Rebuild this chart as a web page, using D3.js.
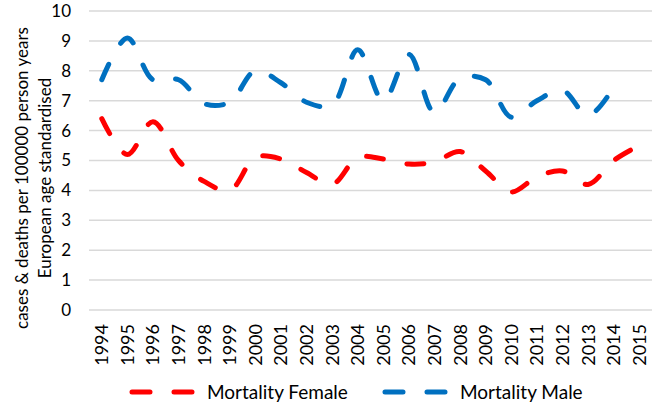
<!DOCTYPE html>
<html>
<head>
<meta charset="utf-8">
<script src="https://cdn.jsdelivr.net/npm/d3@7"></script>
<style>
  body { margin: 0; background: #fff; }
  svg { font-family: Lato, "Open Sans", sans-serif; }
  .grid line { stroke: #d9d9d9; stroke-width: 1.5; }
</style>
</head>
<body>
<svg id="chart" width="657" height="405"></svg>
<script>
// data
var years = ["1994","1995","1996","1997","1998","1999","2000","2001","2002","2003","2004",
             "2005","2006","2007","2008","2009","2010","2011","2012","2013","2014","2015"]
var mortalityFemale = [6.4, 5.2, 6.3, 5.0, 4.3, 4.0, 5.1, 5.05, 4.6, 4.2, 5.1,
                       5.05, 4.88, 4.95, 5.3, 4.65, 3.95, 4.45, 4.65, 4.2, 5.0, 5.5]
var mortalityMale = [7.7, 9.1, 7.7, 7.7, 6.9, 6.95, 8.0, 7.6, 6.95, 6.85, 8.7,
                     7.0, 8.55, 6.6, 7.75, 7.7, 6.45, 7.0, 7.35, 6.5, 7.45, null]
var yTicks = [0, 1, 2, 3, 4, 5, 6, 7, 8, 9, 10]
var seriesNames = ["Mortality Female", "Mortality Male"]
var seriesColors = ["#ff0000", "#0070c0"]

var svg = d3.select("#chart")

// plot area
var plotLeft = 89, plotRight = 652, plotTop = 11, plotBottom = 310

var x = d3.scaleBand().domain(years).range([plotLeft, plotRight])
var y = d3.scaleLinear().domain([0, 10]).range([plotBottom, plotTop])

// horizontal gridlines
svg.append("g")
  .attr("class", "grid")
  .selectAll("line")
  .data(yTicks)
  .enter().append("line")
    .attr("x1", plotLeft)
    .attr("x2", plotRight)
    .attr("y1", function(d) { return y(d) })
    .attr("y2", function(d) { return y(d) })

// y axis labels
var yAxis = d3.axisLeft(y).tickValues(yTicks).tickSize(0).tickPadding(18)
svg.append("g")
  .attr("transform", "translate(" + plotLeft + ",0)")
  .call(yAxis)
  .call(function(g) { g.select(".domain").remove() })
  .selectAll("text")
    .attr("font-family", "Lato, sans-serif")
    .attr("font-size", 17)
    .attr("fill", "#000")

// x axis labels, rotated
var xAxis = d3.axisBottom(x).tickSize(0).tickPadding(0)
svg.append("g")
  .attr("transform", "translate(0," + plotBottom + ")")
  .call(xAxis)
  .call(function(g) { g.select(".domain").remove() })
  .selectAll("text")
    .attr("font-family", "Lato, sans-serif")
    .attr("font-size", 18)
    .attr("fill", "#000")
    .attr("text-anchor", "end")
    .attr("transform", "rotate(-90)")
    .attr("x", -14)
    .attr("y", 0)
    .attr("dy", "0.36em")

// y axis title (two lines)
svg.append("text")
  .attr("transform", "translate(28,178) rotate(-90)")
  .attr("text-anchor", "middle")
  .attr("font-size", 17)
  .text("cases & deaths per 100000 person years")
svg.append("text")
  .attr("transform", "translate(51,178) rotate(-90)")
  .attr("text-anchor", "middle")
  .attr("font-size", 17)
  .text("European age standardised")

// lines
var line = d3.line()
  .defined(function(d) { return d != null })
  .x(function(d, i) { return x(years[i]) + x.bandwidth() / 2 })
  .y(function(d) { return y(d) })
  .curve(d3.curveCatmullRom.alpha(0.5))

var allSeries = [mortalityFemale, mortalityMale]
svg.selectAll("path.series")
  .data(allSeries)
  .enter().append("path")
    .attr("class", "series")
    .attr("fill", "none")
    .attr("stroke", function(d, i) { return seriesColors[i] })
    .attr("stroke-width", 5)
    .attr("stroke-linecap", "round")
    .attr("stroke-dasharray", "17,24")
    .attr("d", line)

// legend
var legendX = [132, 385]
var legend = svg.selectAll("g.legend")
  .data(seriesNames)
  .enter().append("g")
    .attr("class", "legend")
    .attr("transform", function(d, i) { return "translate(" + legendX[i] + ",392)" })
legend.append("line")
  .attr("x1", 0).attr("x2", 63)
  .attr("stroke", function(d, i) { return seriesColors[i] })
  .attr("stroke-width", 5)
  .attr("stroke-linecap", "round")
  .attr("stroke-dasharray", "18,24")
legend.append("text")
  .attr("x", 75)
  .attr("dy", "0.35em")
  .attr("font-size", 19)
  .text(function(d) { return d })
</script>
</body>
</html>
